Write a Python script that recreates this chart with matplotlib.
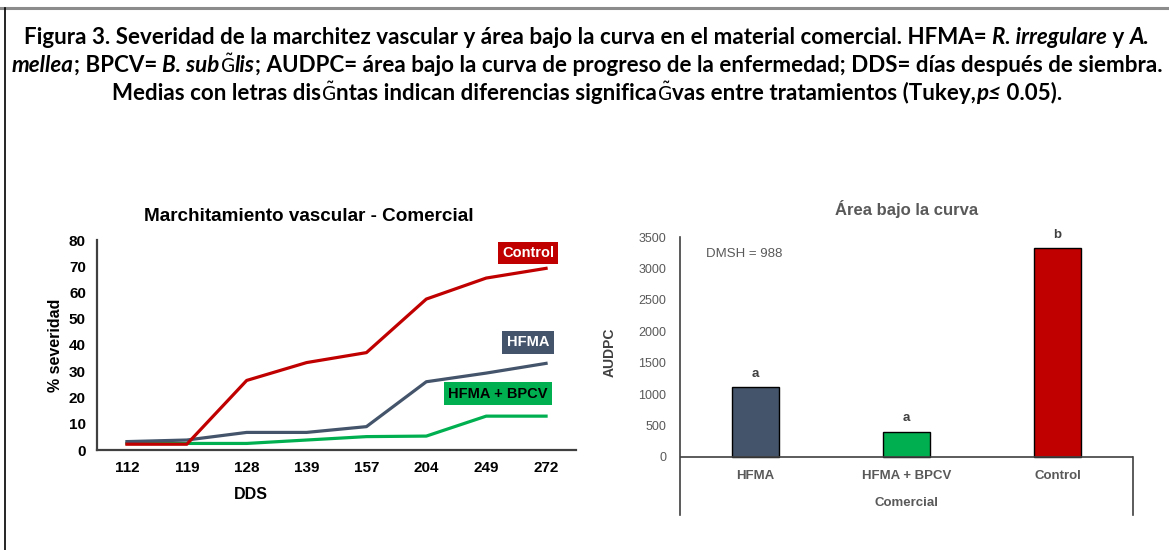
import matplotlib
matplotlib.use("Agg")
import matplotlib.pyplot as plt
from matplotlib.lines import Line2D

# Data
dds = ["112", "119", "128", "139", "157", "204", "249", "272"]
control = [2.2, 2.2, 26.5, 33.3, 37.1, 57.5, 65.5, 69.2]
hfma = [3.2, 3.8, 6.7, 6.7, 8.9, 26.0, 29.3, 33.0]
hfma_bpcv = [2.5, 2.5, 2.5, 3.8, 5.1, 5.3, 12.9, 12.9]

treatments = ["HFMA", "HFMA + BPCV", "Control"]
audpc = [1110, 400, 3320]
letters = ["a", "a", "b"]

RED = "#C00000"
SLATE = "#44546A"
GREEN = "#00B050"
G = r"$\tilde{\mathrm{G}}$"

W, H = 1169, 550
fig = plt.figure(figsize=(W / 100, H / 100), dpi=100)

# figure frame (top gray rule + left black rule)
fig.add_artist(Line2D([0, 1], [1 - 8 / H, 1 - 8 / H], color="#8c8c8c", lw=2.2))
fig.add_artist(Line2D([5 / W, 5 / W], [0, 1 - 8 / H], color="black", lw=1.2))

# caption, built from bold and bold-italic pieces
cap_font = ["Lato", "DejaVu Sans"]
cap_lines = [
    [("Figura 3. Severidad de la marchitez vascular y área bajo la curva en el material comercial. HFMA= ", "normal"),
     ("R. irregulare", "italic"), (" y ", "normal"), ("A.", "italic")],
    [("mellea", "italic"), ("; BPCV= ", "normal"), ("B. sub", "italic"), (G, "glyph"), ("lis", "italic"),
     ("; AUDPC= área bajo la curva de progreso de la enfermedad; DDS= días después de siembra.", "normal")],
    [("Medias con letras dis", "normal"), (G, "glyph"), ("ntas indican diferencias significa", "normal"),
     (G, "glyph"), ("vas entre tratamientos (Tukey,", "normal"), ("p≤", "italic"), (" 0.05).", "normal")],
]
cap_y = [37, 65, 93]
renderer = fig.canvas.get_renderer()
for parts, yp in zip(cap_lines, cap_y):
    texts = []
    for s, style in parts:
        if style == "glyph":
            t = fig.text(0, 1 - yp / H, s, fontsize=13.5, va="center", ha="left")
        else:
            t = fig.text(0, 1 - yp / H, s, fontsize=16.1, fontweight="bold", style=style,
                         family=cap_font, va="center", ha="left")
        texts.append(t)
    widths = [t.get_window_extent(renderer).width for t in texts]
    x = 587 - sum(widths) / 2
    for t, w in zip(texts, widths):
        t.set_x(x / W)
        x += w

# ---- left: line chart ----
ax1 = fig.add_axes([97 / W, 1 - 450 / H, (576 - 97) / W, 210 / H])
xs = range(len(dds))
ax1.plot(xs, hfma_bpcv, color=GREEN, lw=2.3)
ax1.plot(xs, hfma, color=SLATE, lw=2.3)
ax1.plot(xs, control, color=RED, lw=2.3)
ax1.set_xlim(-0.5, len(dds) - 0.5)
ax1.set_ylim(0, 80)
ax1.set_yticks(range(0, 81, 10))
ax1.set_xticks(list(xs))
ax1.set_xticklabels(dds)
for s in ["top", "right"]:
    ax1.spines[s].set_visible(False)
for s in ["left", "bottom"]:
    ax1.spines[s].set_color("#404040")
    ax1.spines[s].set_linewidth(1.6)
ax1.tick_params(length=0, labelsize=11, pad=8)
for lab in ax1.get_xticklabels() + ax1.get_yticklabels():
    lab.set_fontweight("bold")
    lab.set_family("Liberation Sans")
ax1.set_title("Marchitamiento vascular - Comercial", fontsize=13.6, fontweight="bold",
              family="Liberation Sans", pad=14, x=0.442)
ax1.set_ylabel("% severidad", fontsize=11.5, fontweight="bold", family="Liberation Sans", labelpad=4)
ax1.set_xlabel("DDS", fontsize=11.5, fontweight="bold", family="Liberation Sans")
ax1.xaxis.set_label_coords(0.321, -0.175)

box_kw = dict(fontsize=10.5, fontweight="bold", family="Liberation Sans", ha="center", va="center")
ax1.text(6.7, 75, "Control", color="white",
         bbox=dict(boxstyle="square,pad=0.25", fc=RED, ec="none"), **box_kw)
ax1.text(6.7, 41, "HFMA", color="white",
         bbox=dict(boxstyle="square,pad=0.3", fc=SLATE, ec="none"), **box_kw)
ax1.text(6.2, 21.5, "HFMA + BPCV", color="black",
         bbox=dict(boxstyle="square,pad=0.3", fc=GREEN, ec="none"), **box_kw)

# ---- right: bar chart ----
ybot = -923
ax2 = fig.add_axes([680 / W, 1 - 515 / H, (1133 - 680) / W, (515 - 237) / H])
bars = ax2.bar(range(len(treatments)), audpc, width=0.31,
               color=[SLATE, GREEN, RED], edgecolor="black", linewidth=1.0, zorder=3)
ax2.set_xlim(-0.5, len(treatments) - 0.5)
ax2.set_ylim(ybot, 3500)
ax2.set_yticks(range(0, 3501, 500))
ax2.set_xticks([])
for s in ["top", "right", "bottom"]:
    ax2.spines[s].set_visible(False)
ax2.spines["left"].set_color("#404040")
ax2.spines["left"].set_linewidth(1.2)
ax2.axhline(0, color="#404040", lw=1.2, zorder=4)
ax2.plot([len(treatments) - 0.5] * 2, [0, ybot], color="#404040", lw=1.2, clip_on=False)
ax2.tick_params(length=0, labelsize=9, labelcolor="#595959", pad=10)
for lab in ax2.get_yticklabels():
    lab.set_family("Liberation Sans")
for i, (v, l) in enumerate(zip(audpc, letters)):
    ax2.text(i, v + 120, l, ha="center", va="bottom", fontsize=9.5, fontweight="bold",
             color="#404040", family="Liberation Sans")
    ax2.text(i, -310, treatments[i], ha="center", va="center", fontsize=9.5, fontweight="bold",
             color="#595959", family="Liberation Sans")
ax2.text(1, -725, "Comercial", ha="center", va="center", fontsize=9.5, fontweight="bold",
         color="#595959", family="Liberation Sans")
ax2.text(-0.33, 3230, "DMSH = 988", ha="left", va="center", fontsize=9.5,
         color="#595959", family="Liberation Sans")
ax2.set_title("Área bajo la curva", fontsize=12, fontweight="bold", color="#595959",
              family="Liberation Sans", pad=16)
ax2.set_ylabel("AUDPC", fontsize=10, fontweight="bold", color="#404040",
               family="Liberation Sans", labelpad=12)
ax2.yaxis.set_label_coords(-0.14, 0.585)

fig.savefig("out.png", dpi=100)
